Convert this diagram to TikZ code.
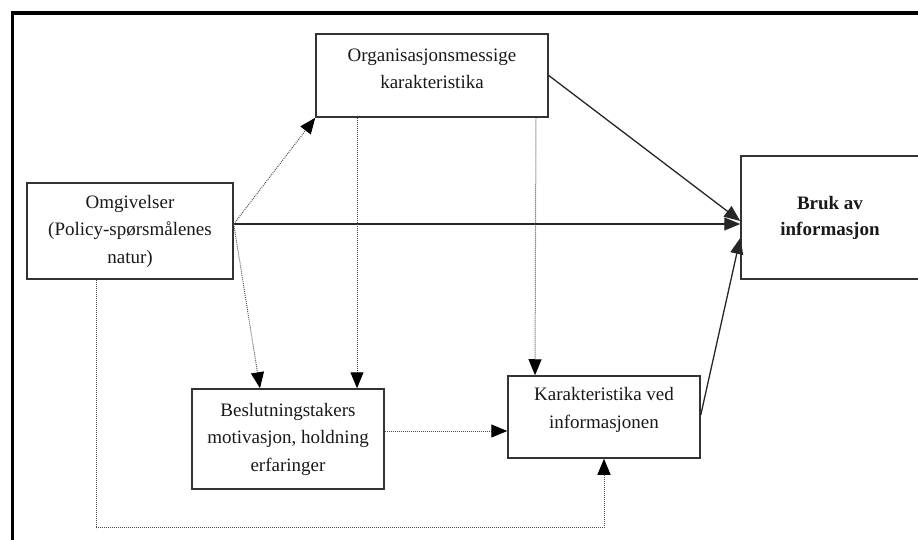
\documentclass[tikz,border=0pt]{standalone}
\usepackage{fontspec}
\setmainfont{Liberation Serif}
\usetikzlibrary{arrows.meta}
\begin{document}
\begin{tikzpicture}[x=1pt,y=-1pt,
  box/.style={draw=black!80, line width=1.5pt, fill=white, align=center,
    inner sep=0pt, text=black!90,
    font=\fontsize{19}{27.5}\selectfont},
  solidarrow/.style={draw=black!85, line width=1.3pt,
    -{Triangle[length=16pt,width=13pt]}},
  dotarrow/.style={draw=black!70, line width=1pt,
    dash pattern=on 0.9pt off 1.1pt,
    -{Triangle[length=16pt,width=13pt,color=black]}},
  dotline/.style={draw=black!70, line width=1pt,
    dash pattern=on 0.9pt off 1.1pt}]
  \useasboundingbox (0,0) rectangle (918,540);
  % outer frame (top and left rules)
  \draw[line width=3.5pt, line cap=butt] (918,13) -- (12.5,13) -- (12.5,540);

  % boxes
  \node[box, minimum width=232pt, minimum height=83pt] (org) at (432,75.5)
    {Organisasjonsmessige\\karakteristika\\[-13.5pt]};
  \node[box, minimum width=206pt, minimum height=96pt] (omg) at (130,231)
    {Omgivelser\\(Policy-spørsmålenes\\natur)};
  \node[box, minimum width=178pt, minimum height=123pt,
    font=\fontsize{19}{26}\selectfont\bfseries] (bruk) at (830,217.5)
    {Bruk av\\informasjon};
  \node[box, minimum width=192pt, minimum height=100pt] (besl) at (288,439)
    {Beslutningstakers\\motivasjon, holdning\\erfaringer};
  \node[box, minimum width=192pt, minimum height=82pt] (kar) at (604,417)
    {Karakteristika ved\\informasjonen\\[-9.5pt]};

  % anchor points on the box edges
  \coordinate (omgout) at ([yshift=7pt]omg.east);
  \coordinate (omgdown) at ([xshift=-34pt]omg.south);
  \coordinate (brukA) at ([yshift=-3.5pt]bruk.west);
  \coordinate (brukC) at ([yshift=-20.5pt]bruk.west);
  \coordinate (beslA) at ([xshift=-28pt]besl.north);
  \coordinate (orgB) at ([xshift=-75pt]org.south);
  \coordinate (beslB) at ([xshift=69pt]besl.north);
  \coordinate (orgC) at ([xshift=104pt]org.south);
  \coordinate (karC) at ([xshift=-69pt]kar.north);
  \coordinate (beslout) at ([yshift=8pt]besl.east);
  \coordinate (karout) at ([yshift=2pt]kar.east);

  % solid influences on the use of information
  \draw[solidarrow] (omgout) -- (omgout -| bruk.west);
  \draw[solidarrow] (org.east) -- (brukA);
  \draw[solidarrow] (karout) -- (brukC);

  % dotted indirect influences
  \draw[dotarrow] (omgout) -- (org.south west);
  \draw[dotarrow] (omgout) -- (beslA);
  \draw[dotarrow] (orgB) -- (beslB);
  \draw[dotarrow] (orgC) -- (karC);
  \draw[dotarrow] (beslout) -- (beslout -| kar.west);
  \draw[dotline] (omgdown) -- ++(0,248) coordinate (loopcorner);
  \draw[dotarrow] (loopcorner) -| (kar.south);
\end{tikzpicture}
\end{document}
